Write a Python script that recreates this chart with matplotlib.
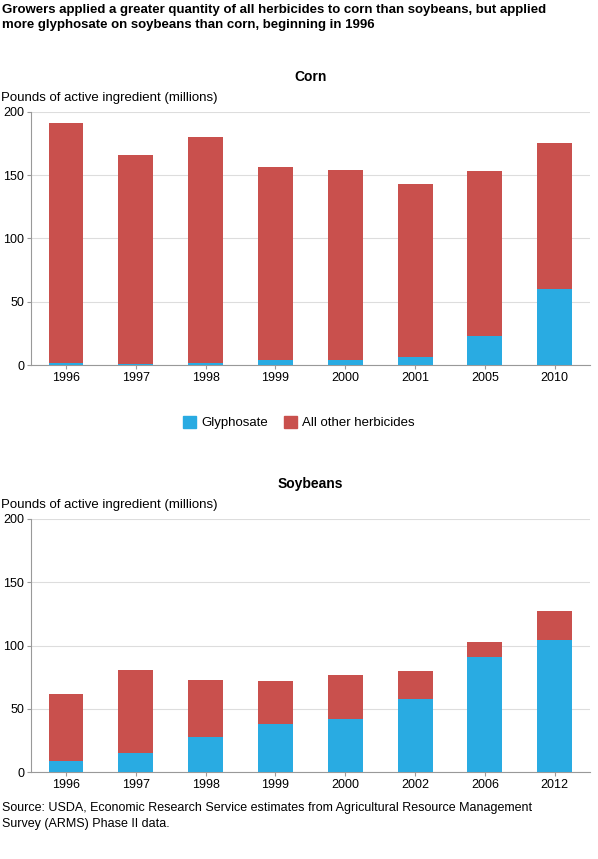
import matplotlib.pyplot as plt
import numpy as np
from matplotlib.patches import Patch

corn_years = ['1996', '1997', '1998', '1999', '2000', '2001', '2005', '2010']
corn_total = [191, 166, 180, 156, 154, 143, 153, 175]
corn_gly = [2, 1, 2, 4, 4, 6, 23, 60]

soy_years = ['1996', '1997', '1998', '1999', '2000', '2002', '2006', '2012']
soy_total = [62, 81, 73, 72, 77, 80, 103, 127]
soy_gly = [9, 15, 28, 38, 42, 58, 91, 104]

BLUE = '#29abe2'
RED = '#c9504d'

plt.rcParams['font.family'] = ['Liberation Sans', 'DejaVu Sans']
fig = plt.figure(figsize=(5.98, 8.59), dpi=100)

fig.text(0.003, 0.995, 'Growers applied a greater quantity of all herbicides to corn than soybeans, but applied\n'
         'more glyphosate on soybeans than corn, beginning in 1996',
         fontsize=9.5, fontweight='bold', va='top', ha='left', linespacing=1.3)


def panel(rect, title, years, total, gly):
    ax = fig.add_axes(rect)
    x = np.arange(len(years))
    other = np.array(total) - np.array(gly)
    ax.bar(x, gly, width=0.5, color=BLUE, zorder=3)
    ax.bar(x, other, bottom=gly, width=0.5, color=RED, zorder=3)
    ax.set_xlim(-0.5, len(years) - 0.5)
    ax.set_ylim(0, 200)
    ax.set_yticks([0, 50, 100, 150, 200])
    ax.set_xticks(x, years)
    ax.grid(axis='y', color='#dddddd', lw=0.8, zorder=0)
    for s in ['top', 'right']:
        ax.spines[s].set_visible(False)
    ax.spines['left'].set_color('#999999')
    ax.spines['bottom'].set_color('#999999')
    ax.tick_params(labelsize=9, color='#999999', length=3, pad=2)
    ax.set_title(title, fontsize=10, fontweight='bold', pad=22)
    ax.text(-0.053, 1.03, 'Pounds of active ingredient (millions)', transform=ax.transAxes,
            fontsize=9.5, ha='left', va='bottom')
    return ax


panel([0.052, 0.575, 0.934, 0.295], 'Corn', corn_years, corn_total, corn_gly)
panel([0.052, 0.101, 0.934, 0.295], 'Soybeans', soy_years, soy_total, soy_gly)

fig.legend(handles=[Patch(color=BLUE, label='Glyphosate'), Patch(color=RED, label='All other herbicides')],
           loc='center', bbox_to_anchor=(0.5, 0.508), ncol=2, frameon=False, fontsize=9.5,
           handlelength=1.0, handleheight=1.0, columnspacing=1.2, handletextpad=0.4)

fig.text(0.003, 0.066, 'Source: USDA, Economic Research Service estimates from Agricultural Resource Management\n'
         'Survey (ARMS) Phase II data.', fontsize=9, va='top', ha='left', linespacing=1.4)

fig.savefig('out.png', dpi=100)
